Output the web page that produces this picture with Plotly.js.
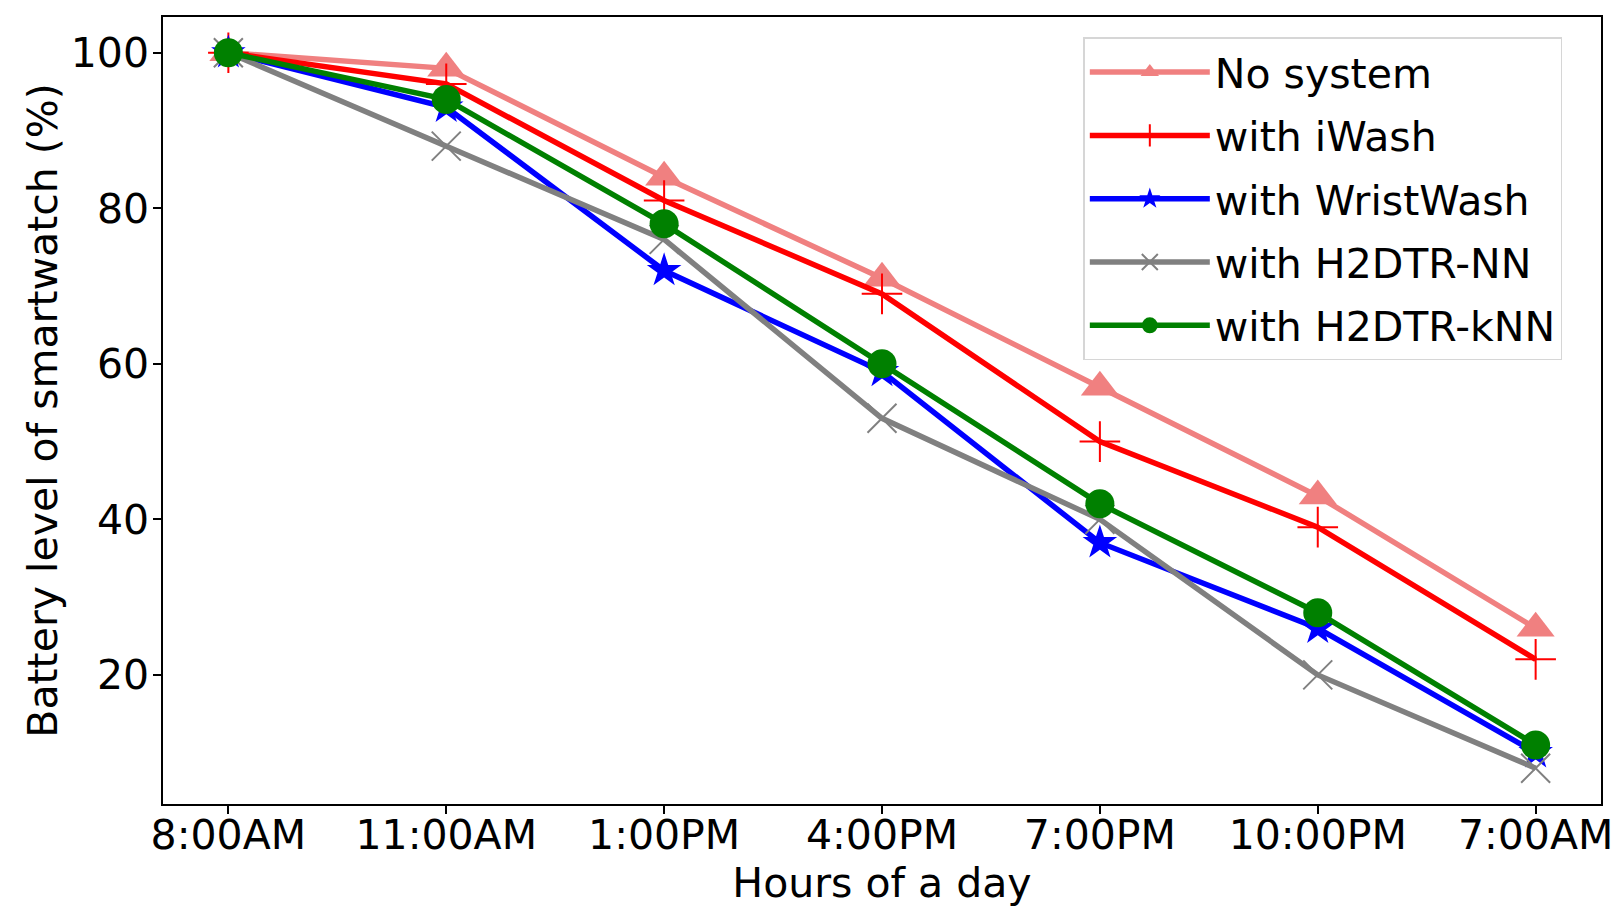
<!DOCTYPE html>
<html>
<head>
<meta charset="utf-8">
<script src="https://cdn.plot.ly/plotly-3.0.1.min.js"></script>
<style>
  body { margin: 0; background: #fff; }
  #chart { width: 1620px; height: 908px; }
</style>
</head>
<body>
<div id="chart"></div>
<script>
var hours = ["8:00AM", "11:00AM", "1:00PM", "4:00PM", "7:00PM", "10:00PM", "7:00AM"];
var noSystem = [100, 98, 84, 71, 57, 43, 26];
var iWash = [100, 96, 81, 69, 50, 39, 22];
var wristWash = [100, 93, 72, 59, 37, 26, 10];
var h2dtrNN = [100, 88, 76, 53, 40, 20, 8];
var h2dtrKNN = [100, 94, 78, 60, 42, 28, 11];

function serie(nombre, valores, color, simbolo, tam, borde, grupo) {
  return {
    x: hours,
    y: valores,
    name: nombre,
    legendgroup: grupo,
    mode: 'lines+markers',
    type: 'scatter',
    line: { color: color, width: 5.5 },
    marker: { color: color, symbol: simbolo, size: tam, line: { color: color, width: borde } }
  };
}

var data = [
  serie("No system", noSystem, "#F08080", "triangle-up", 33, 0, "g1"),
  serie("with iWash", iWash, "#FF0000", "cross-thin", 29, 2, "g2"),
  serie("with WristWash", wristWash, "#0000FF", "star", 26, 0, "g3"),
  serie("with H2DTR-NN", h2dtrNN, "#808080", "x-thin", 29, 2, "g4"),
  serie("with H2DTR-kNN", h2dtrKNN, "#008000", "circle", 29, 0, "g5")
];

var fuente = { family: "DejaVu Sans", size: 41, color: "#000" };

var layout = {
  width: 1620,
  height: 908,
  margin: { l: 163, r: 19, t: 17, b: 104 },
  paper_bgcolor: "#fff",
  plot_bgcolor: "#fff",
  font: fuente,
  showlegend: true,
  xaxis: {
    type: 'category',
    range: [-0.3, 6.3],
    showline: true, mirror: true, linecolor: "#000", linewidth: 1.5,
    ticks: "outside", ticklen: 8, tickwidth: 1.5, tickcolor: "#000",
    ticklabelstandoff: -14,
    showgrid: false, zeroline: false,
    tickfont: fuente,
    automargin: false,
    title: { text: "Hours of a day", font: fuente, standoff: 0 }
  },
  yaxis: {
    range: [3.4, 104.6],
    tickvals: [20, 40, 60, 80, 100],
    showline: true, mirror: true, linecolor: "#000", linewidth: 1.5,
    ticks: "outside", ticklen: 8, tickwidth: 1.5, tickcolor: "#000",
    ticklabelstandoff: -4,
    showgrid: false, zeroline: false,
    tickfont: fuente,
    automargin: false,
    title: { text: "Battery level of smartwatch (%)", font: fuente, standoff: 0 }
  },
  legend: {
    x: 0.64, y: 0.974, xanchor: "left", yanchor: "top",
    bgcolor: "rgba(255,255,255,0.8)",
    bordercolor: "#d6d6d6", borderwidth: 1.5,
    font: fuente,
    tracegroupgap: 7,
    itemwidth: 120
  }
};

Plotly.newPlot('chart', data, layout, { displayModeBar: false });
</script>
</body>
</html>
